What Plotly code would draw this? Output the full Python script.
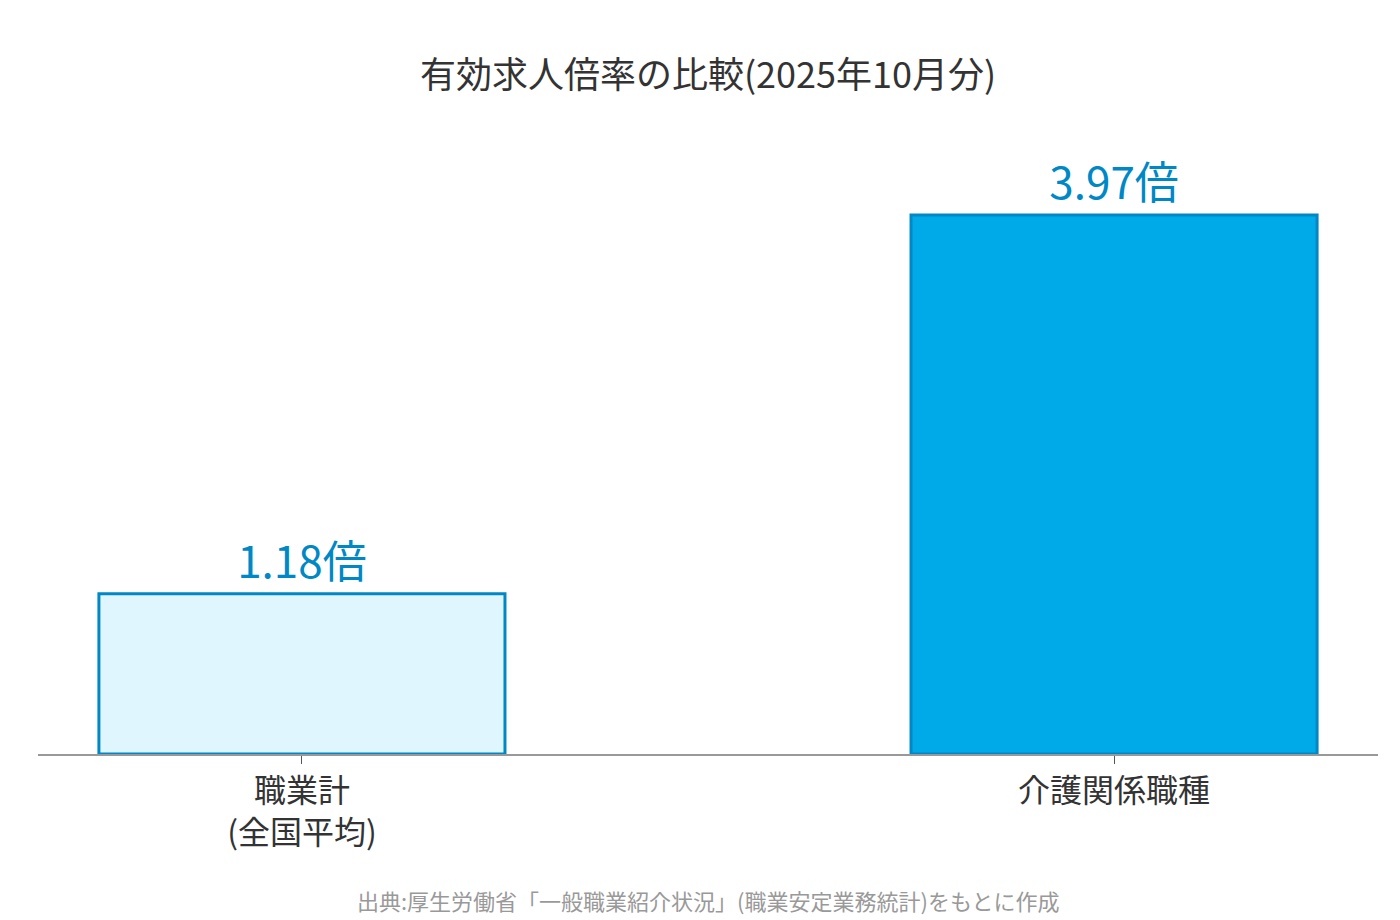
import plotly.graph_objects as go

categories = ["職業計<br>(全国平均)", "介護関係職種"]
values = [1.18, 3.97]
labels = ["1.18倍", "3.97倍"]
fills = ["#E0F6FE", "#00A9E8"]
F = "Noto Sans CJK JP"

fig = go.Figure(go.Bar(
    x=[0, 1], y=values, width=0.5,
    marker=dict(color=fills, line=dict(color="#0088C6", width=3)),
    text=labels, textposition="outside",
    textfont=dict(family=F, size=44, color="#0088C6"),
    cliponaxis=False,
))
fig.update_layout(
    width=1400, height=920,
    margin=dict(l=30, r=30, t=120, b=174),
    paper_bgcolor="white", plot_bgcolor="white",
    title=dict(text="有効求人倍率の比較(2025年10月分)", x=0.5, y=0.94, xanchor="center",
               font=dict(family=F, size=36, color="#333333")),
    xaxis=dict(range=[-0.325, 1.325], tickvals=[0, 1], ticktext=categories,
               showline=True, linecolor="#999999", linewidth=2,
               ticks="outside", ticklen=8, tickcolor="#555555",
               tickfont=dict(family=F, size=32, color="#333333"), showgrid=False),
    yaxis=dict(range=[0, 4.61], visible=False),
    showlegend=False,
    annotations=[dict(text="出典:厚生労働省「一般職業紹介状況」(職業安定業務統計)をもとに作成",
                      xref="paper", yref="paper", x=0.5, y=-0.205, yanchor="top",
                      showarrow=False, font=dict(family=F, size=22, color="#999999"))],
)
fig.write_html("out.html")
